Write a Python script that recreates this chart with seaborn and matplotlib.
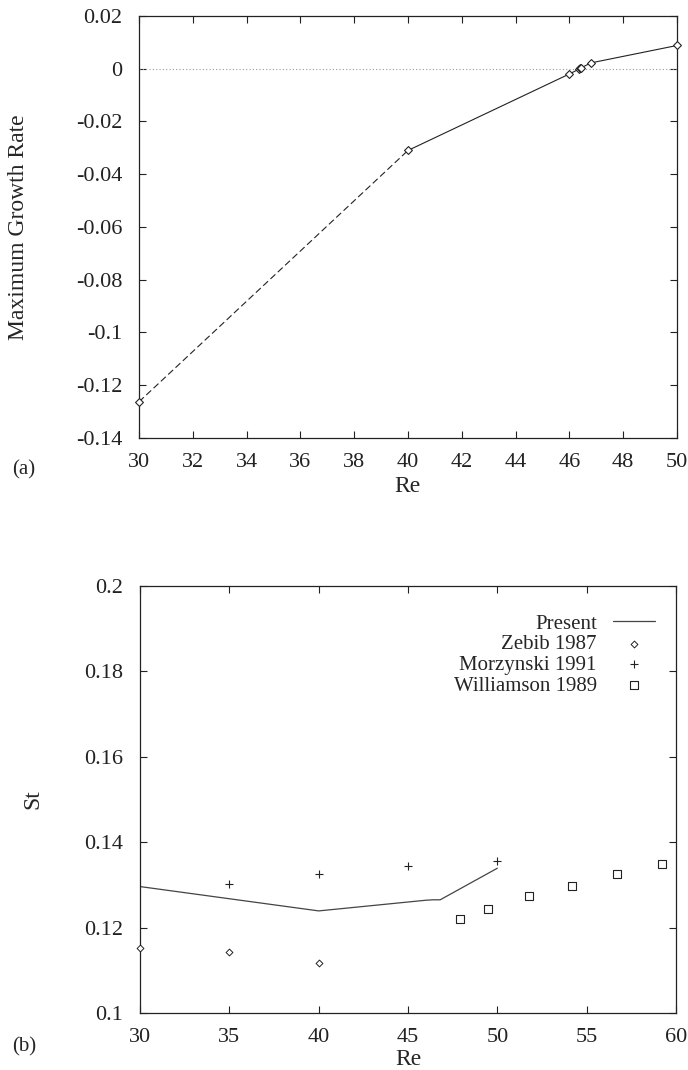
import matplotlib
matplotlib.use("Agg")
import matplotlib.pyplot as plt
import seaborn as sns
import pandas as pd

# (a) maximum growth rate against Reynolds number
re_growth = [30, 40, 46.0, 46.35, 46.4, 46.45, 46.8, 50]
max_growth = [-0.1263, -0.0310, -0.0020, -0.0002, 0.0001, 0.0004, 0.0022, 0.0088]

# (b) Strouhal number against Reynolds number
re_present = [30, 40, 46.0, 46.4, 46.8, 50]
st_present = [0.1296, 0.1239, 0.1264, 0.1265, 0.1265, 0.1339]
re_zebib = [30, 35, 40]
st_zebib = [0.1152, 0.1142, 0.1117]
re_morzynski = [35, 40, 45, 50]
st_morzynski = [0.1303, 0.1326, 0.1344, 0.1356]
re_williamson = [47.9, 49.45, 51.75, 54.2, 56.7, 59.2]
st_williamson = [0.1221, 0.1243, 0.1274, 0.1297, 0.1326, 0.1349]

series_labels = ["Present", "Zebib 1987", "Morzynski 1991", "Williamson 1989"]

xticks_a = [30, 32, 34, 36, 38, 40, 42, 44, 46, 48, 50]
xticklabels_a = ["30", "32", "34", "36", "38", "40", "42", "44", "46", "48", "50"]
yticks_a = [-0.14, -0.12, -0.10, -0.08, -0.06, -0.04, -0.02, 0.0, 0.02]
yticklabels_a = ["-0.14", "-0.12", "-0.1", "-0.08", "-0.06", "-0.04", "-0.02", "0", "0.02"]
xticks_b = [30, 35, 40, 45, 50, 55, 60]
xticklabels_b = ["30", "35", "40", "45", "50", "55", "60"]
yticks_b = [0.10, 0.12, 0.14, 0.16, 0.18, 0.20]
yticklabels_b = ["0.1", "0.12", "0.14", "0.16", "0.18", "0.2"]

sns.set_theme(style="ticks")
plt.rcParams["font.family"] = ["Liberation Serif", "DejaVu Serif"]
plt.rcParams["axes.linewidth"] = 0.9

FS_TICK = 16
FS_LABEL = 17
FS_LEG = 15
INK = "#222222"

fig = plt.figure(figsize=(6.88, 10.70), dpi=100)
ax1 = fig.add_axes([0.2020, 0.5907, 0.7820, 0.3944])
ax2 = fig.add_axes([0.2035, 0.0533, 0.7791, 0.3991])

# ---- panel (a) ----
df_a = pd.DataFrame({"Re": re_growth, "rate": max_growth})
ax1.axhline(0, color="#999999", lw=0.8, ls=(0, (1, 2)), zorder=1)
sns.lineplot(data=df_a.iloc[:2], x="Re", y="rate", ax=ax1, color=INK, lw=0.8,
             linestyle=(0, (6, 3)), sort=False, estimator=None, zorder=2)
sns.lineplot(data=df_a.iloc[1:], x="Re", y="rate", ax=ax1, color=INK, lw=0.8,
             sort=False, estimator=None, zorder=2)
sns.scatterplot(data=df_a, x="Re", y="rate", ax=ax1, marker="D", s=16,
                facecolor="white", edgecolor=INK, linewidth=0.8, zorder=3,
                clip_on=False)

ax1.set_xlim(30, 50)
ax1.set_ylim(-0.14, 0.02)
ax1.set_xticks(xticks_a, xticklabels_a)
ax1.set_yticks(yticks_a, yticklabels_a)
ax1.set_xlabel("Re", fontsize=FS_LABEL)
ax1.set_ylabel("Maximum Growth Rate", fontsize=FS_LABEL)

# ---- panel (b) ----
df_p = pd.DataFrame({"Re": re_present, "St": st_present})
df_z = pd.DataFrame({"Re": re_zebib, "St": st_zebib})
df_m = pd.DataFrame({"Re": re_morzynski, "St": st_morzynski})
df_w = pd.DataFrame({"Re": re_williamson, "St": st_williamson})

sns.lineplot(data=df_p, x="Re", y="St", ax=ax2, color="#444444", lw=0.9,
             sort=False, estimator=None, label=series_labels[0])
sns.scatterplot(data=df_z, x="Re", y="St", ax=ax2, marker="D", s=12,
                facecolor="white", edgecolor=INK, linewidth=0.7,
                label=series_labels[1], zorder=3, clip_on=False)
sns.scatterplot(data=df_m, x="Re", y="St", ax=ax2, marker="+", s=28,
                color=INK, linewidth=0.8, label=series_labels[2], zorder=3,
                clip_on=False)
sns.scatterplot(data=df_w, x="Re", y="St", ax=ax2, marker="s", s=30,
                facecolor="white", edgecolor=INK, linewidth=0.8,
                label=series_labels[3], zorder=3, clip_on=False)

ax2.set_xlim(30, 60)
ax2.set_ylim(0.10, 0.20)
ax2.set_xticks(xticks_b, xticklabels_b)
ax2.set_yticks(yticks_b, yticklabels_b)
ax2.set_xlabel("Re", fontsize=FS_LABEL)
ax2.set_ylabel("St", fontsize=FS_LABEL)

leg = ax2.legend(loc="upper right", bbox_to_anchor=(0.961, 0.934),
                 frameon=False, markerfirst=False, fontsize=FS_LEG,
                 borderpad=0, borderaxespad=0, handlelength=2.0,
                 handletextpad=0.8, labelspacing=0.05)

for ax in (ax1, ax2):
    ax.tick_params(axis="both", which="major", direction="in", top=True,
                   right=True, length=5, width=0.8, labelsize=FS_TICK, colors=INK)
    ax.tick_params(axis="y", pad=12)
    ax.tick_params(axis="x", pad=11)
    for sp in ax.spines.values():
        sp.set_color(INK)

ax1.yaxis.set_label_coords(-0.205, 0.5)
ax2.yaxis.set_label_coords(-0.18, 0.5)
ax1.xaxis.set_label_coords(0.5, -0.09)
ax2.xaxis.set_label_coords(0.5, -0.085)

fig.text(12 / 688, 1 - 470 / 1070, "(a)", fontsize=FS_LEG, va="center", ha="left")
fig.text(12 / 688, 1 - 1047 / 1070, "(b)", fontsize=FS_LEG, va="center", ha="left")

fig.savefig("out.png", dpi=100)
